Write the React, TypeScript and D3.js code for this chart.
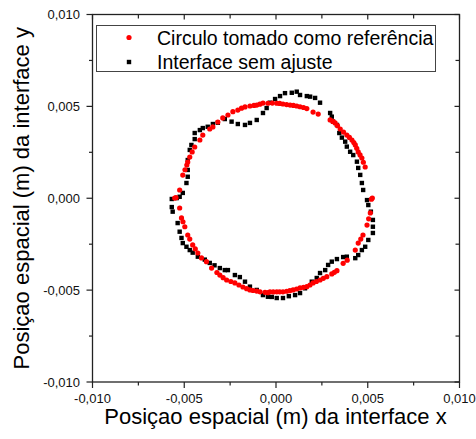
import React from "react";
import * as d3 from "d3";

// Reference circle (m)
const refX = [-0.00105,-0.00088,-0.00071,-0.00044,-0.00020,0.00004,0.00020,0.00038,0.00058,0.00077,0.00095,0.00113,0.00131,0.00150,0.00168,0.00202,0.00230,0.00295,0.00310,0.00322,0.00335,0.00350,0.00368,0.00386,0.00400,0.00414,0.00424,0.00432,0.00440,0.00448,0.00458,0.00468,0.00476,0.00486,
0.00525,0.00520,0.00514,0.00505,0.00496,0.00474,0.00462,0.00448,0.00432,0.00388,0.00366,0.00332,0.00318,0.00304,0.00277,0.00258,0.00240,0.00220,0.00202,0.00185,0.00168,0.00150,0.00131,0.00112,0.00093,0.00075,0.00058,0.00038,0.00020,0.00004,-0.00015,-0.00033,-0.00044,-0.00060,-0.00087,-0.00105,-0.00125,-0.00142,-0.00160,-0.00180,-0.00202,-0.00224,-0.00246,-0.00269,-0.00288,-0.00306,-0.00322,-0.00351,-0.00379,-0.00406,-0.00426,-0.00440,-0.00454,-0.00470,-0.00481,-0.00497,-0.00507,-0.00515,-0.00525,-0.00552,-0.00545,-0.00525,-0.00508,-0.00496,-0.00486,-0.00481,-0.00470,-0.00457,-0.00443,-0.00415,-0.00399,-0.00361,-0.00344,-0.00317,-0.00290,-0.00262,-0.00235,-0.00208,-0.00188,-0.00169,-0.00142,-0.00120];
const refY = [0.00507,0.00512,0.00518,0.00517,0.00518,0.00517,0.00516,0.00513,0.00510,0.00507,0.00505,0.00502,0.00498,0.00494,0.00488,0.00469,0.00458,0.00426,0.00418,0.00410,0.00395,0.00377,0.00360,0.00344,0.00331,0.00317,0.00303,0.00290,0.00272,0.00252,0.00236,0.00219,0.00196,0.00170,
0.00001,-0.00005,-0.00080,-0.00112,-0.00146,-0.00200,-0.00222,-0.00244,-0.00282,-0.00337,-0.00354,-0.00394,-0.00403,-0.00412,-0.00427,-0.00436,-0.00445,-0.00453,-0.00461,-0.00472,-0.00481,-0.00485,-0.00488,-0.00494,-0.00499,-0.00503,-0.00506,-0.00509,-0.00509,-0.00509,-0.00510,-0.00509,-0.00514,-0.00512,-0.00509,-0.00505,-0.00502,-0.00499,-0.00492,-0.00483,-0.00472,-0.00461,-0.00453,-0.00445,-0.00432,-0.00418,-0.00404,-0.00380,-0.00345,-0.00325,-0.00298,-0.00276,-0.00254,-0.00222,-0.00200,-0.00155,-0.00128,-0.00107,-0.00053,0.00001,0.00003,0.00045,0.00126,0.00155,0.00181,0.00197,0.00224,0.00252,0.00279,0.00317,0.00344,0.00377,0.00388,0.00415,0.00437,0.00453,0.00471,0.00480,0.00490,0.00497,0.00502,0.00505];

// Interface without fit (m)
const ifX = [-0.00071,-0.00051,-0.00033,-0.00005,0.00022,0.00049,0.00086,0.00113,0.00131,0.00168,0.00186,0.00213,0.00240,0.00295,0.00304,0.00311,0.00332,0.00345,0.00359,0.00377,0.00386,0.00404,0.00421,0.00441,0.00448,0.00459,0.00468,0.00475,0.00496,0.00503,0.00517,0.00528,0.00528,0.00528,0.00503,0.00486,0.00468,0.00448,0.00432,0.00386,0.00366,0.00332,0.00304,0.00284,0.00268,0.00240,0.00222,0.00195,0.00158,0.00131,0.00104,0.00070,0.00038,0.00004,-0.00023,-0.00044,-0.00071,-0.00105,-0.00142,-0.00169,-0.00197,-0.00224,-0.00262,-0.00279,-0.00306,-0.00335,-0.00361,-0.00388,-0.00426,-0.00454,-0.00470,-0.00488,-0.00508,-0.00515,-0.00525,-0.00536,-0.00563,-0.00568,-0.00568,-0.00541,-0.00525,-0.00508,-0.00488,-0.00481,-0.00481,-0.00481,-0.00470,-0.00461,-0.00443,-0.00443,-0.00415,-0.00399,-0.00372,-0.00344,-0.00317,-0.00279,-0.00242,-0.00208,-0.00169,-0.00142,-0.00105];
const ifY = [0.00464,0.00491,0.00520,0.00540,0.00556,0.00572,0.00574,0.00580,0.00562,0.00556,0.00553,0.00546,0.00520,0.00464,0.00444,0.00417,0.00399,0.00355,0.00330,0.00308,0.00281,0.00253,0.00235,0.00199,0.00165,0.00127,0.00083,0.00045,-0.00010,-0.00037,-0.00073,-0.00118,-0.00155,-0.00189,-0.00227,-0.00264,-0.00282,-0.00309,-0.00326,-0.00318,-0.00320,-0.00331,-0.00345,-0.00363,-0.00391,-0.00407,-0.00434,-0.00454,-0.00490,-0.00516,-0.00527,-0.00533,-0.00543,-0.00543,-0.00537,-0.00536,-0.00527,-0.00499,-0.00481,-0.00454,-0.00429,-0.00418,-0.00391,-0.00391,-0.00380,-0.00365,-0.00352,-0.00334,-0.00318,-0.00296,-0.00282,-0.00264,-0.00244,-0.00216,-0.00182,-0.00135,-0.00073,-0.00048,-0.00004,0.00001,0.00008,0.00029,0.00083,0.00117,0.00154,0.00208,0.00263,0.00290,0.00322,0.00355,0.00371,0.00382,0.00389,0.00404,0.00411,0.00431,0.00417,0.00404,0.00399,0.00410,0.00426];

const xTicks = [-0.01, -0.005, 0, 0.005, 0.01];
const yTicks = [-0.01, -0.005, 0, 0.005, 0.01];
const minorTicks = [-0.0075, -0.0025, 0.0025, 0.0075];
const legendLabels = ["Circulo tomado como referência", "Interface sem ajuste"];
const xTitle = "Posiçao espacial (m) da interface x";
const yTitle = "Posiçao espacial (m) da interface y";

const locale = d3.formatLocale({ decimal: ",", thousands: ".", grouping: [3], currency: ["", ""], minus: "-" });
const fmt = locale.format(".3f");

export default function App() {
  const L = 92.5, R = 459.5, T = 14.5, B = 382;
  const x = d3.scaleLinear().domain([-0.01, 0.01]).range([L, R]);
  const y = d3.scaleLinear().domain([-0.01, 0.01]).range([B, T]);
  const font = "Arial, 'Liberation Sans', sans-serif";
  const ax = "#222";
  const sq = 4.4;
  return (
    <svg width={476} height={439} style={{ position: "absolute", left: 0, top: 0, background: "#fff" }} fontFamily={font}>
      <rect x={0} y={0} width={476} height={439} fill="#fff" />
      {/* frame */}
      <rect x={L} y={T} width={R - L} height={B - T} fill="none" stroke={ax} strokeWidth={1.3} />
      {/* bottom & top ticks */}
      {xTicks.map((t) => (
        <g key={"xt" + t}>
          <line x1={x(t)} x2={x(t)} y1={B} y2={B + 6} stroke={ax} strokeWidth={1.2} />
          <line x1={x(t)} x2={x(t)} y1={T} y2={T + 5} stroke={ax} strokeWidth={1.2} />
          <text x={x(t)} y={402.5} fontSize={13} textAnchor="middle" fill="#111">{fmt(t)}</text>
        </g>
      ))}
      {minorTicks.map((t) => (
        <g key={"xm" + t}>
          <line x1={x(t)} x2={x(t)} y1={B} y2={B + 3.5} stroke={ax} strokeWidth={1.2} />
          <line x1={x(t)} x2={x(t)} y1={T} y2={T + 4} stroke={ax} strokeWidth={1.2} />
        </g>
      ))}
      {yTicks.map((t) => (
        <g key={"yt" + t}>
          <line x1={L - 6} x2={L} y1={y(t)} y2={y(t)} stroke={ax} strokeWidth={1.2} />
          <line x1={R - 5} x2={R} y1={y(t)} y2={y(t)} stroke={ax} strokeWidth={1.2} />
          <text x={80} y={y(t) + 4.6} fontSize={13} textAnchor="end" fill="#111">{fmt(t)}</text>
        </g>
      ))}
      {minorTicks.map((t) => (
        <g key={"ym" + t}>
          <line x1={L - 3.5} x2={L} y1={y(t)} y2={y(t)} stroke={ax} strokeWidth={1.2} />
          <line x1={R - 4} x2={R} y1={y(t)} y2={y(t)} stroke={ax} strokeWidth={1.2} />
        </g>
      ))}
      {/* data */}
      {ifX.map((v, i) => (
        <rect key={"b" + i} x={x(v) - sq / 2} y={y(ifY[i]) - sq / 2} width={sq} height={sq} fill="#000" />
      ))}
      {refX.map((v, i) => (
        <circle key={"r" + i} cx={x(v)} cy={y(refY[i])} r={2.6} fill="#ff0000" />
      ))}
      {/* legend */}
      <rect x={96.5} y={25.5} width={339} height={46} fill="#fff" stroke="#444" strokeWidth={1} />
      <circle cx={129} cy={37.5} r={2.6} fill="#ff0000" />
      <rect x={129 - sq / 2} y={62 - sq / 2} width={sq} height={sq} fill="#000" />
      <text x={157} y={44.5} fontSize={19.5} fill="#000">{legendLabels[0]}</text>
      <text x={157} y={68.5} fontSize={19.5} fill="#000">{legendLabels[1]}</text>
      {/* titles */}
      <text x={275.5} y={424} fontSize={22} textAnchor="middle" fill="#000">{xTitle}</text>
      <text transform={`translate(29,${(T + B) / 2}) rotate(-90)`} fontSize={22} textAnchor="middle" fill="#000">{yTitle}</text>
    </svg>
  );
}
